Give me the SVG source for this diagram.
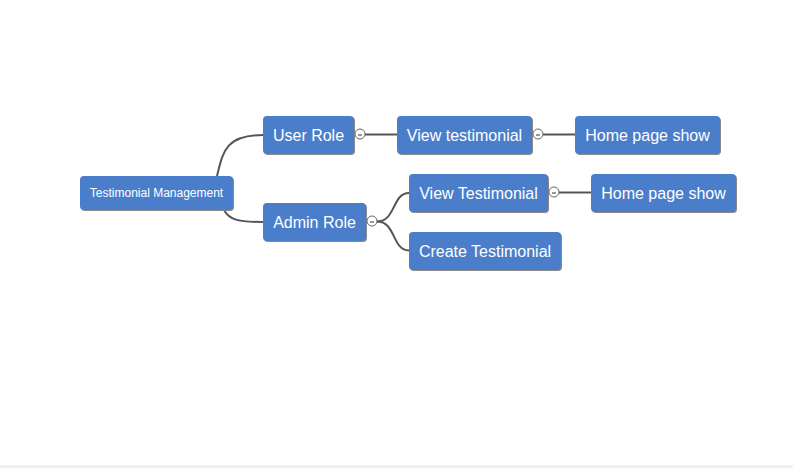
<svg xmlns="http://www.w3.org/2000/svg" width="793" height="468" viewBox="0 0 793 468">
<style>
.n rect.s{fill:#8a8a8a}
.n rect.b{fill:#4a7ecb}
.n text{font-family:"Liberation Sans",Arial,sans-serif;fill:#ffffff;text-anchor:middle}
.t16{font-size:16px}
.t12{font-size:12px}
.c path,.c line{stroke:#555;stroke-width:2;fill:none}
.tg circle{fill:#fff;stroke:#666;stroke-width:1}
.tg line{stroke:#333;stroke-width:1}
</style>
<rect x="0" y="0" width="793" height="468" fill="#ffffff"/>
<rect x="0" y="465" width="793" height="3" fill="#eef1f4"/>
<g class="c" id="connectors">
<path d="M217,176 C223,152 225,135 263,135"/>
<path d="M224,210 C229,219 236,222 263,222"/>
<line x1="365" y1="134.5" x2="397" y2="134.5"/>
<line x1="543" y1="134.5" x2="575" y2="134.5"/>
<line x1="559" y1="192.5" x2="591" y2="192.5"/>
<path d="M377,221.5 C396,221.5 392,193 409,193"/>
<path d="M377,221.5 C396,221.5 392,250.5 409,250.5"/>
</g>
<g class="n" id="root">
<rect class="s" x="81" y="177" width="153" height="34" rx="4"/>
<rect class="b" x="80" y="176" width="153" height="34" rx="4"/>
<text class="t12" x="156.5" y="197">Testimonial Management</text>
</g>
<g class="n" id="user-role">
<rect class="s" x="264" y="117" width="91" height="38" rx="4"/>
<rect class="b" x="263" y="116" width="91" height="38" rx="4"/>
<text class="t16" x="308.5" y="140.5">User Role</text>
</g>
<g class="n" id="admin-role">
<rect class="s" x="264" y="204" width="103" height="38" rx="4"/>
<rect class="b" x="263" y="203" width="103" height="38" rx="4"/>
<text class="t16" x="314.5" y="227.5">Admin Role</text>
</g>
<g class="n" id="view-testimonial-user">
<rect class="s" x="398" y="117" width="135" height="38" rx="4"/>
<rect class="b" x="397" y="116" width="135" height="38" rx="4"/>
<text class="t16" x="464.5" y="140.5">View testimonial</text>
</g>
<g class="n" id="home-page-show-1">
<rect class="s" x="576" y="117" width="145" height="38" rx="4"/>
<rect class="b" x="575" y="116" width="145" height="38" rx="4"/>
<text class="t16" x="647.5" y="140.5">Home page show</text>
</g>
<g class="n" id="view-testimonial-admin">
<rect class="s" x="410" y="175" width="139" height="38" rx="4"/>
<rect class="b" x="409" y="174" width="139" height="38" rx="4"/>
<text class="t16" x="478.5" y="198.5">View Testimonial</text>
</g>
<g class="n" id="home-page-show-2">
<rect class="s" x="592" y="175" width="145" height="38" rx="4"/>
<rect class="b" x="591" y="174" width="145" height="38" rx="4"/>
<text class="t16" x="663.5" y="198.5">Home page show</text>
</g>
<g class="n" id="create-testimonial">
<rect class="s" x="410" y="233" width="152" height="38" rx="4"/>
<rect class="b" x="409" y="232" width="152" height="38" rx="4"/>
<text class="t16" x="485" y="256.5">Create Testimonial</text>
</g>
<g class="tg" id="toggles">
<g><circle cx="360" cy="134" r="5"/><line x1="358" y1="135" x2="362" y2="135"/></g>
<g><circle cx="538" cy="134" r="5"/><line x1="536" y1="135" x2="540" y2="135"/></g>
<g><circle cx="372" cy="221" r="5"/><line x1="370" y1="222" x2="374" y2="222"/></g>
<g><circle cx="554" cy="192" r="5"/><line x1="552" y1="193" x2="556" y2="193"/></g>
</g>
</svg>
